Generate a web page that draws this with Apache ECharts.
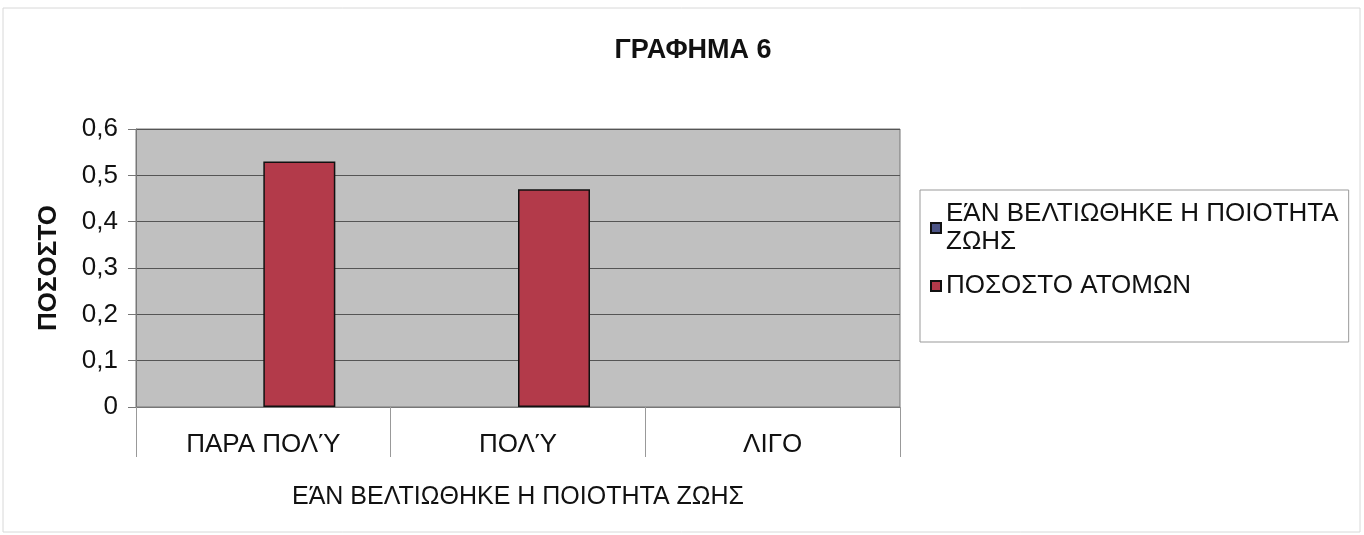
<!DOCTYPE html>
<html>
<head>
<meta charset="utf-8">
<script src="https://cdn.jsdelivr.net/npm/echarts@6/dist/echarts.min.js"></script>
<style>
html,body{margin:0;padding:0;background:#fff;}
#chart{width:1364px;height:535px;}
</style>
</head>
<body>
<div id="chart"></div>
<script>
const titleText = 'ΓΡΑΦΗΜΑ 6';
const categories = ['ΠΑΡΑ ΠΟΛΎ', 'ΠΟΛΎ', 'ΛΙΓΟ'];
const seriesNames = ['ΕΆΝ ΒΕΛΤΙΩΘΗΚΕ Η ΠΟΙΟΤΗΤΑ ΖΩΗΣ', 'ΠΟΣΟΣΤΟ ΑΤΟΜΩΝ'];
const seriesA = [null, null, null];
const seriesB = [0.53, 0.47, 0];
const yTicks = ['0', '0,1', '0,2', '0,3', '0,4', '0,5', '0,6'];
const xAxisName = 'ΕΆΝ ΒΕΛΤΙΩΘΗΚΕ Η ΠΟΙΟΤΗΤΑ ΖΩΗΣ';
const yAxisName = 'ΠΟΣΟΣΤΟ';

const font = 'Liberation Sans, Arial, sans-serif';
const chart = echarts.init(document.getElementById('chart'));
chart.setOption({
  animation: false,
  backgroundColor: '#fff',
  graphic: [{
    type: 'rect', shape: {x: 3, y: 8, width: 1357, height: 524},
    style: {fill: 'none', stroke: '#d8d8d8', lineWidth: 1}, z: -10
  }],
  title: {
    text: titleText, left: 688, top: 32, textAlign: 'center',
    textStyle: {fontFamily: font, fontSize: 27, fontWeight: 'bold', color: '#111'}
  },
  legend: {
    orient: 'vertical', left: 920, top: 190,
    padding: [10, 10, 42, 10],
    borderColor: '#999', borderWidth: 1,
    itemWidth: 10, itemHeight: 10, itemGap: 16,
    icon: 'rect',
    formatter: function(n){ return n === seriesNames[0] ? 'ΕΆΝ ΒΕΛΤΙΩΘΗΚΕ Η ΠΟΙΟΤΗΤΑ\nΖΩΗΣ' : n; },
    textStyle: {fontFamily: font, fontSize: 26, lineHeight: 28, color: '#111'},
    data: seriesNames
  },
  grid: {left: 136, right: 464, top: 129, bottom: 128, show: true,
    backgroundColor: '#c0c0c0', borderColor: '#777', borderWidth: 1},
  xAxis: {
    type: 'category', data: categories,
    name: xAxisName, nameLocation: 'middle', nameGap: 78,
    nameTextStyle: {fontFamily: font, fontSize: 25, color: '#111'},
    axisLine: {show: true, lineStyle: {color: '#777'}},
    axisTick: {show: true, length: 50, lineStyle: {color: '#999'}},
    axisLabel: {fontFamily: font, fontSize: 26, color: '#111', margin: 25}
  },
  yAxis: {
    type: 'value', min: 0, max: 0.6, interval: 0.1,
    name: yAxisName, nameLocation: 'middle', nameGap: 74, nameRotate: 90,
    nameTextStyle: {fontFamily: font, fontSize: 26, fontWeight: 'bold', color: '#111'},
    axisLine: {show: true, lineStyle: {color: '#777'}},
    axisTick: {show: true, length: 8, lineStyle: {color: '#777'}},
    splitLine: {show: true, lineStyle: {color: '#555', width: 1}},
    axisLabel: {fontFamily: font, fontSize: 26, color: '#111', margin: 18,
      formatter: function(v){ return yTicks[Math.round(v * 10)]; }}
  },
  series: [
    {name: seriesNames[0], type: 'bar', data: seriesA, barWidth: 72, barGap: '0%',
     itemStyle: {color: '#4b5385', borderColor: '#111', borderWidth: 1}},
    {name: seriesNames[1], type: 'bar', barWidth: 72, barGap: '0%',
     data: seriesB.map(function(v){ return v === 0 ? {value: v, itemStyle: {borderWidth: 0}} : v; }),
     itemStyle: {color: '#b33a4a', borderColor: '#111', borderWidth: 1.5}}
  ]
});
</script>
</body>
</html>
